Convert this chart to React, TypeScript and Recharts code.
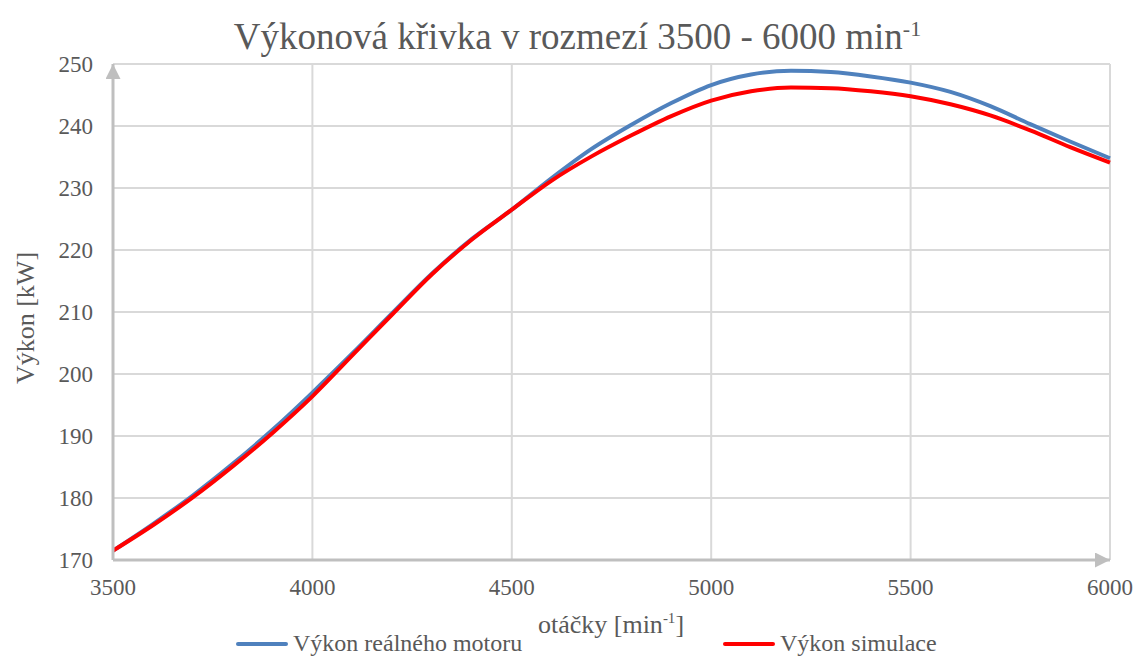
import { LineChart, Line, XAxis, YAxis, CartesianGrid, Legend } from "recharts";

const rpm = [
  3500, 3600, 3700, 3800, 3900, 4000, 4100, 4200, 4300, 4400, 4500, 4600, 4700,
  4800, 4900, 5000, 5100, 5200, 5300, 5400, 5500, 5600, 5700, 5800, 5900, 6000,
];
const realPower = [
  171.5, 175.8, 180.4, 185.5, 191.0, 197.0, 203.3, 209.8, 216.2, 221.8, 226.5,
  231.6, 236.3, 240.2, 243.7, 246.6, 248.3, 248.9, 248.7, 248.0, 247.0, 245.5,
  243.2, 240.3, 237.5, 234.8,
];
const simPower = [
  171.5, 175.6, 180.1, 185.1, 190.5, 196.4, 203.0, 209.6, 216.1, 221.7, 226.5,
  231.2, 235.1, 238.5, 241.6, 244.1, 245.6, 246.2, 246.1, 245.6, 244.8, 243.5,
  241.7, 239.3, 236.6, 234.1,
];
const xTicks = [3500, 4000, 4500, 5000, 5500, 6000];
const yTicks = [170, 180, 190, 200, 210, 220, 230, 240, 250];

const data = rpm.map((r, i) => ({ rpm: r, real: realPower[i], sim: simPower[i] }));

const FONT = '"Liberation Serif", "Times New Roman", serif';
const TEXT = "#595959";
const AXIS = "#BFBFBF";

function ChartLegend() {
  const item = (left: number, color: string, label: string) => (
    <div
      style={{
        position: "absolute",
        left,
        top: 0,
        display: "flex",
        alignItems: "center",
        gap: 5,
        whiteSpace: "nowrap",
      }}
    >
      <span style={{ width: 52, height: 4, background: color, borderRadius: 2 }} />
      <span style={{ color: TEXT, fontSize: 24, fontFamily: FONT }}>{label}</span>
    </div>
  );
  return (
    <div style={{ position: "relative", width: 1137, height: 30 }}>
      {item(236, "#4F81BD", "Výkon reálného motoru")}
      {item(723, "#FF0000", "Výkon simulace")}
    </div>
  );
}

export default function App() {
  return (
    <div
      style={{
        position: "absolute",
        left: 0,
        top: 0,
        width: 1137,
        height: 659,
        background: "#fff",
        fontFamily: FONT,
      }}
    >
      {/* title */}
      <div
        style={{
          position: "absolute",
          left: 0,
          top: 7,
          width: 1155,
          textAlign: "center",
          fontSize: 37,
          lineHeight: "44px",
          color: TEXT,
          whiteSpace: "nowrap",
        }}
      >
        Výkonová křivka v rozmezí 3500 - 6000 min<sup style={{ fontSize: 22 }}>-1</sup>
      </div>

      {/* y-axis title */}
      <div
        style={{
          position: "absolute",
          left: 26,
          top: 318,
          transform: "translate(-50%, -50%) rotate(-90deg)",
          fontSize: 26,
          color: TEXT,
          whiteSpace: "nowrap",
        }}
      >
        Výkon [kW]
      </div>

      {/* x-axis title */}
      <div
        style={{
          position: "absolute",
          left: 611,
          top: 610,
          transform: "translateX(-50%)",
          fontSize: 26,
          color: TEXT,
          whiteSpace: "nowrap",
        }}
      >
        otáčky [min<sup style={{ fontSize: 15 }}>-1</sup>]
      </div>

      <LineChart
        width={1137}
        height={659}
        data={data}
        margin={{ top: 64, right: 27, bottom: 39, left: 0 }}
      >
        <defs>
          <marker
            id="axisArrow"
            viewBox="0 0 10 10"
            refX={10}
            refY={5}
            markerWidth={15}
            markerHeight={15}
            markerUnits="userSpaceOnUse"
            orient="auto-start-reverse"
          >
            <path d="M0,0 L10,5 L0,10 z" fill={AXIS} />
          </marker>
        </defs>
        <CartesianGrid stroke="#D9D9D9" strokeWidth={2} />
        <XAxis
          dataKey="rpm"
          type="number"
          domain={[3500, 6000]}
          ticks={xTicks}
          height={30}
          tickLine={false}
          tickMargin={13}
          axisLine={{ stroke: AXIS, strokeWidth: 3, markerEnd: "url(#axisArrow)" }}
          tick={{ fill: TEXT, fontSize: 23, fontFamily: FONT }}
          interval={0}
        />
        <YAxis
          type="number"
          domain={[170, 250]}
          ticks={yTicks}
          width={113}
          tickLine={false}
          tickMargin={14}
          axisLine={{ stroke: AXIS, strokeWidth: 3, markerStart: "url(#axisArrow)" }}
          tick={{ fill: TEXT, fontSize: 23, fontFamily: FONT }}
          interval={0}
        />
        <Legend
          verticalAlign="bottom"
          content={() => <ChartLegend />}
          wrapperStyle={{ position: "absolute", left: 0, top: 630, width: 1137 }}
        />
        <Line
          type="monotone"
          dataKey="real"
          stroke="#4F81BD"
          strokeWidth={4}
          dot={false}
          isAnimationActive={false}
        />
        <Line
          type="monotone"
          dataKey="sim"
          stroke="#FF0000"
          strokeWidth={4}
          dot={false}
          isAnimationActive={false}
        />
      </LineChart>
    </div>
  );
}
